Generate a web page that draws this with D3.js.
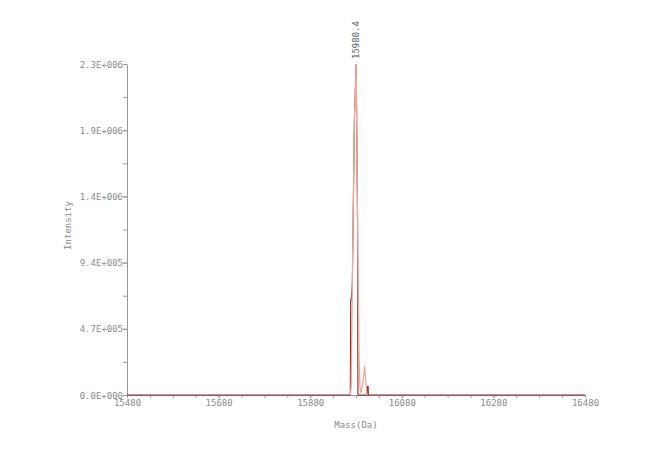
<!DOCTYPE html>
<html>
<head>
<meta charset="utf-8">
<script src="https://cdn.jsdelivr.net/npm/d3@7"></script>
<style>
  body { margin: 0; background: #fff; }
  svg { display: block; }
</style>
</head>
<body>
<svg id="chart" width="668" height="450"></svg>
<script>
// spectrum data (mass in Da, intensity)
const rawMass = [15480, 15967.5, 15968.5, 15970, 15972, 15976.5, 15980.4, 15983.5, 15984.2, 16004, 16005, 16006.5, 16007, 16480];
const rawIntensity = [0, 0, 680000, 680000, 800000, 1950000, 2350000, 1200000, 0, 0, 60000, 60000, 0, 0];
const fitMass = [15968, 15969.5, 15972, 15976.5, 15980.4, 15983.5, 15986.5, 15988.5, 15991, 15995, 15999, 16002, 16004];
const fitIntensity = [0, 60000, 800000, 1950000, 2350000, 1200000, 300000, 60000, 15000, 90000, 205000, 70000, 0];
const peakMass = 15980.4;
const peakIntensity = 2350000;
const peakLabel = "15980.4";

const xTickValues = [15480, 15680, 15880, 16080, 16280, 16480];
const yTickValues = [0, 470000, 940000, 1410000, 1880000, 2350000];
const yTickLabels = ["0.0E+000", "4.7E+005", "9.4E+005", "1.4E+006", "1.9E+006", "2.3E+006"];

const margin = {top: 64, left: 127, right: 83, bottom: 55};
const width = 668, height = 450;
const plotWidth = width - margin.left - margin.right;
const plotHeight = height - margin.top - margin.bottom;
const font = "'DejaVu Sans Mono', monospace";
const textColor = "#8a8a8a";
const axisColor = "#999";

const svg = d3.select('#chart');
const g = svg.append('g').attr('transform', `translate(${margin.left},${margin.top})`);

const x = d3.scaleLinear().domain([15480, 16480]).range([0, plotWidth]);
const y = d3.scaleLinear().domain([0, 2350000]).range([plotHeight, 0]);

// minor ticks
const xMinor = d3.range(15480, 16481, 50);
const yMinor = d3.range(0, 2350001, 235000);

g.append('g').attr('transform', `translate(0,${plotHeight})`)
  .call(d3.axisBottom(x).tickValues(xMinor).tickSize(3).tickFormat(''))
  .call(a => a.select('.domain').remove())
  .selectAll('line').attr('stroke', axisColor);

g.append('g')
  .call(d3.axisLeft(y).tickValues(yMinor).tickSize(4).tickFormat(''))
  .call(a => a.select('.domain').remove())
  .selectAll('line').attr('stroke', axisColor);

// major axes with labels
const xAxis = g.append('g').attr('transform', `translate(0,${plotHeight})`)
  .call(d3.axisBottom(x).tickValues(xTickValues).tickSize(3).tickSizeOuter(0).tickFormat(d3.format('d')));
const yAxis = g.append('g')
  .call(d3.axisLeft(y).tickValues(yTickValues).tickSize(4).tickSizeOuter(0)
    .tickFormat((d, i) => yTickLabels[i]));

[xAxis, yAxis].forEach(a => {
  a.select('.domain').attr('stroke', axisColor);
  a.selectAll('line').attr('stroke', axisColor);
  a.selectAll('text').attr('fill', textColor).attr('font-family', font).attr('font-size', 9);
});
xAxis.selectAll('text').attr('dy', '0.55em');
yAxis.selectAll('text').attr('x', -4).attr('dy', '0.35em');

// traces
const rawData = rawMass.map((m, i) => ({m, v: rawIntensity[i]}));
const fitData = fitMass.map((m, i) => ({m, v: fitIntensity[i]}));
const line = d3.line().x(d => x(d.m)).y(d => y(d.v));

g.append('path').attr('d', line(rawData))
  .attr('fill', 'none').attr('stroke', '#8e2323').attr('stroke-width', 1.1);
g.append('path').attr('d', line(fitData))
  .attr('fill', 'none').attr('stroke', '#f0a898').attr('stroke-width', 1.3);

// peak label
g.append('text')
  .attr('transform', `translate(${x(peakMass) + 3},${y(peakIntensity) - 5}) rotate(-90)`)
  .attr('font-family', font).attr('font-size', 9).attr('fill', '#5a6070')
  .text(peakLabel);

// axis titles
g.append('text')
  .attr('x', plotWidth / 2).attr('y', plotHeight + 33)
  .attr('text-anchor', 'middle')
  .attr('font-family', font).attr('font-size', 9).attr('fill', textColor)
  .text('Mass(Da)');
g.append('text')
  .attr('transform', `translate(${-56},${plotHeight / 2 - 4}) rotate(-90)`)
  .attr('text-anchor', 'middle')
  .attr('font-family', font).attr('font-size', 9).attr('fill', textColor)
  .text('Intensity');
</script>
</body>
</html>
